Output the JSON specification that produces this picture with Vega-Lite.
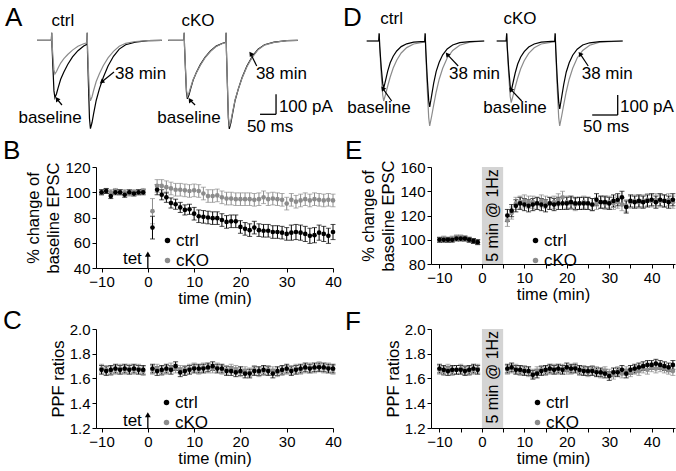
{
"$schema": "https://vega.github.io/schema/vega-lite/v6.json",
"padding": {"left": 3, "top": 5, "right": 0, "bottom": 0},
"background": "white",
"columns": 2,
"spacing": {"row": 61, "column": 98},
"bounds": "flush",
"align": "each",
"resolve": {"scale": {"color": "independent"}, "legend": {"color": "independent"}},
"datasets": {
"trA": [
{"k":"ctrl","t":0,"b":0,"g":0},{"k":"ctrl","t":45,"b":0,"g":0},{"k":"ctrl","t":46,"b":38,"g":38},{"k":"ctrl","t":47,"b":-29,"g":-17},{"k":"ctrl","t":50,"b":-144,"g":-84},{"k":"ctrl","t":53,"b":-253,"g":-148},{"k":"ctrl","t":56,"b":-287,"g":-168},{"k":"ctrl","t":61,"b":-267,"g":-156},{"k":"ctrl","t":66,"b":-238,"g":-139},{"k":"ctrl","t":74,"b":-195,"g":-114},{"k":"ctrl","t":84,"b":-158,"g":-92},{"k":"ctrl","t":96,"b":-121,"g":-71},{"k":"ctrl","t":111,"b":-83,"g":-49},{"k":"ctrl","t":128,"b":-52,"g":-30},{"k":"ctrl","t":146,"b":-29,"g":-17},{"k":"ctrl","t":156,"b":-20,"g":-12},{"k":"ctrl","t":157,"b":38,"g":38},{"k":"ctrl","t":158,"b":-64,"g":-42},{"k":"ctrl","t":161,"b":-231,"g":-160},{"k":"ctrl","t":164,"b":-391,"g":-268},{"k":"ctrl","t":167,"b":-442,"g":-303},{"k":"ctrl","t":172,"b":-411,"g":-282},{"k":"ctrl","t":177,"b":-367,"g":-251},{"k":"ctrl","t":185,"b":-301,"g":-206},{"k":"ctrl","t":195,"b":-243,"g":-167},{"k":"ctrl","t":207,"b":-186,"g":-127},{"k":"ctrl","t":222,"b":-128,"g":-88},{"k":"ctrl","t":239,"b":-80,"g":-55},{"k":"ctrl","t":257,"b":-44,"g":-30},{"k":"ctrl","t":277,"b":-22,"g":-15},{"k":"ctrl","t":307,"b":-9,"g":-6},{"k":"ctrl","t":347,"b":-2,"g":-2},{"k":"ctrl","t":390,"b":0,"g":0},
{"k":"cKO","t":410,"b":0,"g":0},{"k":"cKO","t":459,"b":0,"g":0},{"k":"cKO","t":460,"b":38,"g":38},{"k":"cKO","t":461,"b":-29,"g":-28},{"k":"cKO","t":464,"b":-147,"g":-140},{"k":"cKO","t":467,"b":-258,"g":-246},{"k":"cKO","t":470,"b":-293,"g":-280},{"k":"cKO","t":475,"b":-272,"g":-262},{"k":"cKO","t":480,"b":-243,"g":-236},{"k":"cKO","t":488,"b":-199,"g":-196},{"k":"cKO","t":498,"b":-161,"g":-162},{"k":"cKO","t":510,"b":-123,"g":-126},{"k":"cKO","t":525,"b":-85,"g":-88},{"k":"cKO","t":542,"b":-53,"g":-56},{"k":"cKO","t":560,"b":-29,"g":-31},{"k":"cKO","t":580,"b":-15,"g":-16},{"k":"cKO","t":590,"b":-10,"g":-11},{"k":"cKO","t":591,"b":38,"g":38},{"k":"cKO","t":592,"b":-54,"g":-53},{"k":"cKO","t":595,"b":-222,"g":-215},{"k":"cKO","t":598,"b":-390,"g":-378},{"k":"cKO","t":601,"b":-443,"g":-430},{"k":"cKO","t":606,"b":-412,"g":-402},{"k":"cKO","t":611,"b":-368,"g":-361},{"k":"cKO","t":619,"b":-301,"g":-298},{"k":"cKO","t":629,"b":-244,"g":-244},{"k":"cKO","t":641,"b":-186,"g":-188},{"k":"cKO","t":656,"b":-128,"g":-132},{"k":"cKO","t":673,"b":-80,"g":-84},{"k":"cKO","t":691,"b":-44,"g":-47},{"k":"cKO","t":711,"b":-22,"g":-24},{"k":"cKO","t":741,"b":-9,"g":-10},{"k":"cKO","t":781,"b":-2,"g":-2},{"k":"cKO","t":815,"b":0,"g":0}
],
"trD": [
{"k":"ctrl","t":0,"b":0,"g":0},{"k":"ctrl","t":24,"b":0,"g":0},{"k":"ctrl","t":25,"b":38,"g":38},{"k":"ctrl","t":26,"b":-24,"g":-30},{"k":"ctrl","t":29,"b":-130,"g":-165},{"k":"ctrl","t":32,"b":-212,"g":-270},{"k":"ctrl","t":34,"b":-236,"g":-300},{"k":"ctrl","t":38,"b":-194,"g":-264},{"k":"ctrl","t":42,"b":-151,"g":-225},{"k":"ctrl","t":47,"b":-109,"g":-180},{"k":"ctrl","t":53,"b":-76,"g":-135},{"k":"ctrl","t":60,"b":-50,"g":-96},{"k":"ctrl","t":69,"b":-28,"g":-60},{"k":"ctrl","t":80,"b":-14,"g":-33},{"k":"ctrl","t":94,"b":-6,"g":-15},{"k":"ctrl","t":116,"b":-2,"g":-5},{"k":"ctrl","t":117,"b":38,"g":38},{"k":"ctrl","t":118,"b":-35,"g":-45},{"k":"ctrl","t":121,"b":-182,"g":-234},{"k":"ctrl","t":124,"b":-297,"g":-383},{"k":"ctrl","t":126,"b":-330,"g":-425},{"k":"ctrl","t":130,"b":-271,"g":-374},{"k":"ctrl","t":134,"b":-211,"g":-319},{"k":"ctrl","t":139,"b":-152,"g":-255},{"k":"ctrl","t":145,"b":-106,"g":-191},{"k":"ctrl","t":152,"b":-69,"g":-136},{"k":"ctrl","t":161,"b":-40,"g":-85},{"k":"ctrl","t":172,"b":-20,"g":-47},{"k":"ctrl","t":186,"b":-8,"g":-21},{"k":"ctrl","t":206,"b":-3,"g":-6},{"k":"ctrl","t":235,"b":0,"g":0},
{"k":"cKO","t":260,"b":0,"g":0},{"k":"cKO","t":279,"b":0,"g":0},{"k":"cKO","t":280,"b":38,"g":38},{"k":"cKO","t":281,"b":-25,"g":-31},{"k":"cKO","t":284,"b":-138,"g":-169},{"k":"cKO","t":287,"b":-225,"g":-277},{"k":"cKO","t":289,"b":-250,"g":-308},{"k":"cKO","t":293,"b":-205,"g":-271},{"k":"cKO","t":297,"b":-160,"g":-231},{"k":"cKO","t":302,"b":-115,"g":-185},{"k":"cKO","t":308,"b":-80,"g":-139},{"k":"cKO","t":315,"b":-53,"g":-99},{"k":"cKO","t":324,"b":-30,"g":-62},{"k":"cKO","t":335,"b":-15,"g":-34},{"k":"cKO","t":349,"b":-6,"g":-15},{"k":"cKO","t":376,"b":-1,"g":-4},{"k":"cKO","t":377,"b":38,"g":38},{"k":"cKO","t":378,"b":-34,"g":-43},{"k":"cKO","t":381,"b":-187,"g":-234},{"k":"cKO","t":384,"b":-306,"g":-383},{"k":"cKO","t":386,"b":-340,"g":-425},{"k":"cKO","t":390,"b":-279,"g":-374},{"k":"cKO","t":394,"b":-218,"g":-319},{"k":"cKO","t":399,"b":-156,"g":-255},{"k":"cKO","t":405,"b":-109,"g":-191},{"k":"cKO","t":412,"b":-71,"g":-136},{"k":"cKO","t":421,"b":-41,"g":-85},{"k":"cKO","t":432,"b":-20,"g":-47},{"k":"cKO","t":446,"b":-9,"g":-21},{"k":"cKO","t":466,"b":-3,"g":-6},{"k":"cKO","t":512,"b":0,"g":0}
],
"barA": [{"x":747,"x2":747,"y":-270,"y2":-370},{"x":697,"x2":747,"y":-370,"y2":-370}],
"barD": [{"x":502,"x2":502,"y":-270,"y2":-370},{"x":451,"x2":502,"y":-370,"y2":-370}],
"arrA": [{"n":"ctrlbase","x":78,"y":-323.5,"x2":62.5,"y2":-293.5},{"n":"ctrl38","x":240.6,"y":-158.5,"x2":202,"y2":-208.5},{"n":"kobase","x":494,"y":-323.5,"x2":478,"y2":-298.5},{"n":"ko38","x":686.6,"y":-128.5,"x2":667.8,"y2":-67}],
"arrD": [{"n":"ctrlbase","x":50,"y":-300,"x2":32,"y2":-236.5},{"n":"ctrl38","x":183,"y":-125,"x2":161,"y2":-66.5},{"n":"kobase","x":310,"y":-300,"x2":288,"y2":-241.5},{"n":"ko38","x":443,"y":-125,"x2":426.6,"y2":-63.5}],
"labAc": [{"x":81,"y":96.5,"s":"ctrl"},{"x":503,"y":96.5,"s":"cKO"},{"x":41,"y":-387,"s":"baseline"},{"x":475,"y":-387,"s":"baseline"}],
"labAl": [{"x":244,"y":-167,"s":"38 min"},{"x":684,"y":-167,"s":"38 min"},{"x":756,"y":-333.5,"s":"100 pA"},{"x":656,"y":-433.5,"s":"50 ms"}],
"labDc": [{"x":50,"y":108.5,"s":"ctrl"},{"x":306.6,"y":108.5,"s":"cKO"},{"x":24.6,"y":-333.5,"s":"baseline"},{"x":296.6,"y":-333.5,"s":"baseline"}],
"labDl": [{"x":164.6,"y":-163.5,"s":"38 min"},{"x":430,"y":-163.5,"s":"38 min"},{"x":506.6,"y":-330,"s":"100 pA"},{"x":432.6,"y":-430,"s":"50 ms"}],
"B": [
{"t":-10,"g":"cKO","m":100,"e":2},{"t":-9,"g":"cKO","m":101,"e":2},{"t":-8,"g":"cKO","m":100,"e":2},{"t":-7,"g":"cKO","m":101,"e":2},{"t":-6,"g":"cKO","m":100,"e":2},{"t":-5,"g":"cKO","m":100,"e":2},{"t":-4,"g":"cKO","m":99,"e":2},{"t":-3,"g":"cKO","m":100,"e":2},{"t":-2,"g":"cKO","m":100,"e":2},{"t":-1,"g":"cKO","m":101,"e":2},
{"t":1,"g":"cKO","m":85,"e":10},{"t":2,"g":"cKO","m":105,"e":5},{"t":3,"g":"cKO","m":105,"e":5},{"t":4,"g":"cKO","m":104,"e":5},{"t":5,"g":"cKO","m":103,"e":5},{"t":6,"g":"cKO","m":102,"e":5},{"t":7,"g":"cKO","m":102,"e":5},{"t":8,"g":"cKO","m":101.5,"e":5},{"t":9,"g":"cKO","m":101,"e":5},{"t":10,"g":"cKO","m":101.5,"e":5},{"t":11,"g":"cKO","m":101,"e":5},{"t":12,"g":"cKO","m":99,"e":5},{"t":13,"g":"cKO","m":97,"e":5},{"t":14,"g":"cKO","m":97,"e":5},{"t":15,"g":"cKO","m":97.5,"e":5},{"t":16,"g":"cKO","m":96,"e":5},{"t":17,"g":"cKO","m":95,"e":5},{"t":18,"g":"cKO","m":95,"e":5},{"t":19,"g":"cKO","m":94.5,"e":5},{"t":20,"g":"cKO","m":94.5,"e":5},{"t":21,"g":"cKO","m":94.5,"e":5},{"t":22,"g":"cKO","m":94.5,"e":5},{"t":23,"g":"cKO","m":94,"e":5},{"t":24,"g":"cKO","m":94.5,"e":5},{"t":25,"g":"cKO","m":96,"e":5},{"t":26,"g":"cKO","m":94.5,"e":5},{"t":27,"g":"cKO","m":95,"e":5},{"t":28,"g":"cKO","m":94.5,"e":5},{"t":29,"g":"cKO","m":94,"e":5},{"t":30,"g":"cKO","m":91,"e":5},{"t":31,"g":"cKO","m":94,"e":5},{"t":32,"g":"cKO","m":92.5,"e":5},{"t":33,"g":"cKO","m":93.5,"e":5},{"t":34,"g":"cKO","m":94.5,"e":5},{"t":35,"g":"cKO","m":93.5,"e":5},{"t":36,"g":"cKO","m":94.5,"e":5},{"t":37,"g":"cKO","m":94,"e":5},{"t":38,"g":"cKO","m":93.5,"e":5},{"t":39,"g":"cKO","m":94,"e":5},{"t":40,"g":"cKO","m":93.5,"e":5},
{"t":-10,"g":"ctrl","m":100,"e":2},{"t":-9,"g":"ctrl","m":101,"e":2},{"t":-8,"g":"ctrl","m":97,"e":2},{"t":-7,"g":"ctrl","m":100,"e":2},{"t":-6,"g":"ctrl","m":100,"e":2},{"t":-5,"g":"ctrl","m":98,"e":2},{"t":-4,"g":"ctrl","m":100,"e":2},{"t":-3,"g":"ctrl","m":99,"e":2},{"t":-2,"g":"ctrl","m":100,"e":2},{"t":-1,"g":"ctrl","m":100,"e":2},
{"t":1,"g":"ctrl","m":72,"e":9},{"t":2,"g":"ctrl","m":102,"e":4},{"t":3,"g":"ctrl","m":98,"e":4},{"t":4,"g":"ctrl","m":96,"e":4},{"t":5,"g":"ctrl","m":91.5,"e":4},{"t":6,"g":"ctrl","m":90.5,"e":4},{"t":7,"g":"ctrl","m":88,"e":4},{"t":8,"g":"ctrl","m":86,"e":4},{"t":9,"g":"ctrl","m":86.5,"e":4},{"t":10,"g":"ctrl","m":83,"e":5},{"t":11,"g":"ctrl","m":81,"e":5},{"t":12,"g":"ctrl","m":80.5,"e":5},{"t":13,"g":"ctrl","m":80,"e":5},{"t":14,"g":"ctrl","m":79.5,"e":5},{"t":15,"g":"ctrl","m":79.5,"e":5},{"t":16,"g":"ctrl","m":78,"e":5},{"t":17,"g":"ctrl","m":76.5,"e":5},{"t":18,"g":"ctrl","m":77,"e":5},{"t":19,"g":"ctrl","m":77,"e":5},{"t":20,"g":"ctrl","m":72.5,"e":5},{"t":21,"g":"ctrl","m":71,"e":5},{"t":22,"g":"ctrl","m":70,"e":5},{"t":23,"g":"ctrl","m":72,"e":5},{"t":24,"g":"ctrl","m":70,"e":5},{"t":25,"g":"ctrl","m":69.5,"e":5},{"t":26,"g":"ctrl","m":69.5,"e":5},{"t":27,"g":"ctrl","m":68.5,"e":5},{"t":28,"g":"ctrl","m":68.5,"e":5},{"t":29,"g":"ctrl","m":68,"e":5},{"t":30,"g":"ctrl","m":67,"e":5},{"t":31,"g":"ctrl","m":68,"e":6},{"t":32,"g":"ctrl","m":68.5,"e":6},{"t":33,"g":"ctrl","m":68,"e":6},{"t":34,"g":"ctrl","m":67,"e":6},{"t":35,"g":"ctrl","m":65.5,"e":6},{"t":36,"g":"ctrl","m":66,"e":6},{"t":37,"g":"ctrl","m":68,"e":6},{"t":38,"g":"ctrl","m":67,"e":6},{"t":39,"g":"ctrl","m":65.5,"e":6},{"t":40,"g":"ctrl","m":68.5,"e":6}
],
"C": [
{"t":-10,"g":"cKO","m":1.68,"e":0.035},{"t":-9,"g":"cKO","m":1.67,"e":0.035},{"t":-8,"g":"cKO","m":1.66,"e":0.035},{"t":-7,"g":"cKO","m":1.67,"e":0.035},{"t":-6,"g":"cKO","m":1.68,"e":0.035},{"t":-5,"g":"cKO","m":1.67,"e":0.035},{"t":-4,"g":"cKO","m":1.68,"e":0.035},{"t":-3,"g":"cKO","m":1.67,"e":0.035},{"t":-2,"g":"cKO","m":1.68,"e":0.035},{"t":-1,"g":"cKO","m":1.66,"e":0.035},
{"t":1,"g":"cKO","m":1.67,"e":0.035},{"t":2,"g":"cKO","m":1.68,"e":0.035},{"t":3,"g":"cKO","m":1.66,"e":0.035},{"t":4,"g":"cKO","m":1.67,"e":0.035},{"t":5,"g":"cKO","m":1.69,"e":0.035},{"t":6,"g":"cKO","m":1.68,"e":0.035},{"t":7,"g":"cKO","m":1.67,"e":0.035},{"t":8,"g":"cKO","m":1.67,"e":0.035},{"t":9,"g":"cKO","m":1.68,"e":0.035},{"t":10,"g":"cKO","m":1.69,"e":0.035},{"t":11,"g":"cKO","m":1.67,"e":0.035},{"t":12,"g":"cKO","m":1.69,"e":0.035},{"t":13,"g":"cKO","m":1.68,"e":0.035},{"t":14,"g":"cKO","m":1.68,"e":0.035},{"t":15,"g":"cKO","m":1.69,"e":0.035},{"t":16,"g":"cKO","m":1.67,"e":0.035},{"t":17,"g":"cKO","m":1.67,"e":0.035},{"t":18,"g":"cKO","m":1.68,"e":0.035},{"t":19,"g":"cKO","m":1.67,"e":0.035},{"t":20,"g":"cKO","m":1.65,"e":0.035},{"t":21,"g":"cKO","m":1.66,"e":0.035},{"t":22,"g":"cKO","m":1.65,"e":0.035},{"t":23,"g":"cKO","m":1.67,"e":0.035},{"t":24,"g":"cKO","m":1.65,"e":0.035},{"t":25,"g":"cKO","m":1.66,"e":0.035},{"t":26,"g":"cKO","m":1.67,"e":0.035},{"t":27,"g":"cKO","m":1.66,"e":0.035},{"t":28,"g":"cKO","m":1.65,"e":0.035},{"t":29,"g":"cKO","m":1.66,"e":0.035},{"t":30,"g":"cKO","m":1.67,"e":0.035},{"t":31,"g":"cKO","m":1.67,"e":0.035},{"t":32,"g":"cKO","m":1.68,"e":0.035},{"t":33,"g":"cKO","m":1.67,"e":0.035},{"t":34,"g":"cKO","m":1.68,"e":0.035},{"t":35,"g":"cKO","m":1.69,"e":0.035},{"t":36,"g":"cKO","m":1.68,"e":0.035},{"t":37,"g":"cKO","m":1.7,"e":0.035},{"t":38,"g":"cKO","m":1.68,"e":0.035},{"t":39,"g":"cKO","m":1.69,"e":0.035},{"t":40,"g":"cKO","m":1.67,"e":0.035},
{"t":-10,"g":"ctrl","m":1.67,"e":0.035},{"t":-9,"g":"ctrl","m":1.66,"e":0.035},{"t":-8,"g":"ctrl","m":1.67,"e":0.035},{"t":-7,"g":"ctrl","m":1.68,"e":0.035},{"t":-6,"g":"ctrl","m":1.67,"e":0.035},{"t":-5,"g":"ctrl","m":1.68,"e":0.035},{"t":-4,"g":"ctrl","m":1.67,"e":0.035},{"t":-3,"g":"ctrl","m":1.68,"e":0.035},{"t":-2,"g":"ctrl","m":1.67,"e":0.035},{"t":-1,"g":"ctrl","m":1.67,"e":0.035},
{"t":1,"g":"ctrl","m":1.68,"e":0.035},{"t":2,"g":"ctrl","m":1.66,"e":0.035},{"t":3,"g":"ctrl","m":1.67,"e":0.035},{"t":4,"g":"ctrl","m":1.68,"e":0.035},{"t":5,"g":"ctrl","m":1.67,"e":0.035},{"t":6,"g":"ctrl","m":1.7,"e":0.035},{"t":7,"g":"ctrl","m":1.65,"e":0.035},{"t":8,"g":"ctrl","m":1.66,"e":0.035},{"t":9,"g":"ctrl","m":1.67,"e":0.035},{"t":10,"g":"ctrl","m":1.68,"e":0.035},{"t":11,"g":"ctrl","m":1.68,"e":0.035},{"t":12,"g":"ctrl","m":1.68,"e":0.035},{"t":13,"g":"ctrl","m":1.69,"e":0.035},{"t":14,"g":"ctrl","m":1.7,"e":0.035},{"t":15,"g":"ctrl","m":1.68,"e":0.035},{"t":16,"g":"ctrl","m":1.68,"e":0.035},{"t":17,"g":"ctrl","m":1.66,"e":0.035},{"t":18,"g":"ctrl","m":1.66,"e":0.035},{"t":19,"g":"ctrl","m":1.65,"e":0.035},{"t":20,"g":"ctrl","m":1.66,"e":0.035},{"t":21,"g":"ctrl","m":1.64,"e":0.035},{"t":22,"g":"ctrl","m":1.64,"e":0.035},{"t":23,"g":"ctrl","m":1.66,"e":0.035},{"t":24,"g":"ctrl","m":1.66,"e":0.035},{"t":25,"g":"ctrl","m":1.67,"e":0.035},{"t":26,"g":"ctrl","m":1.66,"e":0.035},{"t":27,"g":"ctrl","m":1.64,"e":0.035},{"t":28,"g":"ctrl","m":1.66,"e":0.035},{"t":29,"g":"ctrl","m":1.67,"e":0.035},{"t":30,"g":"ctrl","m":1.68,"e":0.035},{"t":31,"g":"ctrl","m":1.66,"e":0.035},{"t":32,"g":"ctrl","m":1.67,"e":0.035},{"t":33,"g":"ctrl","m":1.68,"e":0.035},{"t":34,"g":"ctrl","m":1.69,"e":0.035},{"t":35,"g":"ctrl","m":1.68,"e":0.035},{"t":36,"g":"ctrl","m":1.69,"e":0.035},{"t":37,"g":"ctrl","m":1.69,"e":0.035},{"t":38,"g":"ctrl","m":1.69,"e":0.035},{"t":39,"g":"ctrl","m":1.68,"e":0.035},{"t":40,"g":"ctrl","m":1.68,"e":0.035}
],
"E": [
{"t":-10,"g":"cKO","m":100,"e":2},{"t":-9,"g":"cKO","m":101,"e":2},{"t":-8,"g":"cKO","m":100,"e":2},{"t":-7,"g":"cKO","m":101,"e":2},{"t":-6,"g":"cKO","m":102,"e":2},{"t":-5,"g":"cKO","m":102,"e":2},{"t":-4,"g":"cKO","m":101,"e":2},{"t":-3,"g":"cKO","m":100,"e":2},{"t":-2,"g":"cKO","m":99,"e":2},{"t":-1,"g":"cKO","m":98,"e":2},
{"t":6,"g":"cKO","m":116,"e":5},{"t":7,"g":"cKO","m":122,"e":5},{"t":8,"g":"cKO","m":130,"e":5},{"t":9,"g":"cKO","m":131,"e":5},{"t":10,"g":"cKO","m":132,"e":5},{"t":11,"g":"cKO","m":131,"e":5},{"t":12,"g":"cKO","m":131,"e":5},{"t":13,"g":"cKO","m":130,"e":5},{"t":14,"g":"cKO","m":132,"e":5},{"t":15,"g":"cKO","m":131,"e":5},{"t":16,"g":"cKO","m":130,"e":5},{"t":17,"g":"cKO","m":131,"e":5},{"t":18,"g":"cKO","m":133,"e":5},{"t":19,"g":"cKO","m":135,"e":5},{"t":20,"g":"cKO","m":131,"e":5},{"t":21,"g":"cKO","m":130,"e":5},{"t":22,"g":"cKO","m":129,"e":5},{"t":23,"g":"cKO","m":130,"e":5},{"t":24,"g":"cKO","m":131,"e":5},{"t":25,"g":"cKO","m":130,"e":5},{"t":26,"g":"cKO","m":129,"e":5},{"t":27,"g":"cKO","m":130,"e":5},{"t":28,"g":"cKO","m":131,"e":5},{"t":29,"g":"cKO","m":130,"e":5},{"t":30,"g":"cKO","m":131,"e":5},{"t":31,"g":"cKO","m":130,"e":5},{"t":32,"g":"cKO","m":131,"e":5},{"t":33,"g":"cKO","m":129,"e":5},{"t":34,"g":"cKO","m":128,"e":5},{"t":35,"g":"cKO","m":131,"e":5},{"t":36,"g":"cKO","m":132,"e":5},{"t":37,"g":"cKO","m":131,"e":5},{"t":38,"g":"cKO","m":132,"e":5},{"t":39,"g":"cKO","m":133,"e":5},{"t":40,"g":"cKO","m":132,"e":5},{"t":41,"g":"cKO","m":133,"e":5},{"t":42,"g":"cKO","m":132,"e":5},{"t":43,"g":"cKO","m":132,"e":5},{"t":44,"g":"cKO","m":133,"e":5},{"t":45,"g":"cKO","m":131,"e":5},
{"t":-10,"g":"ctrl","m":100,"e":2},{"t":-9,"g":"ctrl","m":100,"e":2},{"t":-8,"g":"ctrl","m":100,"e":2},{"t":-7,"g":"ctrl","m":100,"e":2},{"t":-6,"g":"ctrl","m":101,"e":2},{"t":-5,"g":"ctrl","m":101,"e":2},{"t":-4,"g":"ctrl","m":101,"e":2},{"t":-3,"g":"ctrl","m":100,"e":2},{"t":-2,"g":"ctrl","m":99,"e":2},{"t":-1,"g":"ctrl","m":98,"e":2},
{"t":6,"g":"ctrl","m":120,"e":5},{"t":7,"g":"ctrl","m":124,"e":5},{"t":8,"g":"ctrl","m":128,"e":5},{"t":9,"g":"ctrl","m":130,"e":5},{"t":10,"g":"ctrl","m":129,"e":5},{"t":11,"g":"ctrl","m":128,"e":5},{"t":12,"g":"ctrl","m":129,"e":5},{"t":13,"g":"ctrl","m":130,"e":5},{"t":14,"g":"ctrl","m":129,"e":5},{"t":15,"g":"ctrl","m":128,"e":5},{"t":16,"g":"ctrl","m":130,"e":5},{"t":17,"g":"ctrl","m":129,"e":5},{"t":18,"g":"ctrl","m":130,"e":5},{"t":19,"g":"ctrl","m":130,"e":5},{"t":20,"g":"ctrl","m":130,"e":5},{"t":21,"g":"ctrl","m":131,"e":5},{"t":22,"g":"ctrl","m":130,"e":5},{"t":23,"g":"ctrl","m":130,"e":5},{"t":24,"g":"ctrl","m":130,"e":5},{"t":25,"g":"ctrl","m":130,"e":5},{"t":26,"g":"ctrl","m":129,"e":5},{"t":27,"g":"ctrl","m":133,"e":5},{"t":28,"g":"ctrl","m":131,"e":5},{"t":29,"g":"ctrl","m":131,"e":5},{"t":30,"g":"ctrl","m":130,"e":5},{"t":31,"g":"ctrl","m":132,"e":5},{"t":32,"g":"ctrl","m":133,"e":5},{"t":33,"g":"ctrl","m":135,"e":5},{"t":34,"g":"ctrl","m":127,"e":5},{"t":35,"g":"ctrl","m":132,"e":5},{"t":36,"g":"ctrl","m":131,"e":5},{"t":37,"g":"ctrl","m":132,"e":5},{"t":38,"g":"ctrl","m":131,"e":5},{"t":39,"g":"ctrl","m":132,"e":5},{"t":40,"g":"ctrl","m":133,"e":5},{"t":41,"g":"ctrl","m":131,"e":5},{"t":42,"g":"ctrl","m":133,"e":5},{"t":43,"g":"ctrl","m":132,"e":5},{"t":44,"g":"ctrl","m":131,"e":5},{"t":45,"g":"ctrl","m":133,"e":5}
],
"F": [
{"t":-10,"g":"cKO","m":1.67,"e":0.035},{"t":-9,"g":"cKO","m":1.66,"e":0.035},{"t":-8,"g":"cKO","m":1.68,"e":0.035},{"t":-7,"g":"cKO","m":1.66,"e":0.035},{"t":-6,"g":"cKO","m":1.67,"e":0.035},{"t":-5,"g":"cKO","m":1.68,"e":0.035},{"t":-4,"g":"cKO","m":1.67,"e":0.035},{"t":-3,"g":"cKO","m":1.66,"e":0.035},{"t":-2,"g":"cKO","m":1.67,"e":0.035},{"t":-1,"g":"cKO","m":1.68,"e":0.035},
{"t":6,"g":"cKO","m":1.67,"e":0.035},{"t":7,"g":"cKO","m":1.68,"e":0.035},{"t":8,"g":"cKO","m":1.68,"e":0.035},{"t":9,"g":"cKO","m":1.66,"e":0.035},{"t":10,"g":"cKO","m":1.67,"e":0.035},{"t":11,"g":"cKO","m":1.65,"e":0.035},{"t":12,"g":"cKO","m":1.64,"e":0.035},{"t":13,"g":"cKO","m":1.66,"e":0.035},{"t":14,"g":"cKO","m":1.67,"e":0.035},{"t":15,"g":"cKO","m":1.66,"e":0.035},{"t":16,"g":"cKO","m":1.67,"e":0.035},{"t":17,"g":"cKO","m":1.68,"e":0.035},{"t":18,"g":"cKO","m":1.67,"e":0.035},{"t":19,"g":"cKO","m":1.68,"e":0.035},{"t":20,"g":"cKO","m":1.67,"e":0.035},{"t":21,"g":"cKO","m":1.67,"e":0.035},{"t":22,"g":"cKO","m":1.69,"e":0.035},{"t":23,"g":"cKO","m":1.66,"e":0.035},{"t":24,"g":"cKO","m":1.67,"e":0.035},{"t":25,"g":"cKO","m":1.65,"e":0.035},{"t":26,"g":"cKO","m":1.67,"e":0.035},{"t":27,"g":"cKO","m":1.66,"e":0.035},{"t":28,"g":"cKO","m":1.64,"e":0.035},{"t":29,"g":"cKO","m":1.66,"e":0.035},{"t":30,"g":"cKO","m":1.64,"e":0.035},{"t":31,"g":"cKO","m":1.63,"e":0.035},{"t":32,"g":"cKO","m":1.66,"e":0.035},{"t":33,"g":"cKO","m":1.64,"e":0.035},{"t":34,"g":"cKO","m":1.66,"e":0.035},{"t":35,"g":"cKO","m":1.65,"e":0.035},{"t":36,"g":"cKO","m":1.67,"e":0.035},{"t":37,"g":"cKO","m":1.66,"e":0.035},{"t":38,"g":"cKO","m":1.68,"e":0.035},{"t":39,"g":"cKO","m":1.67,"e":0.035},{"t":40,"g":"cKO","m":1.69,"e":0.035},{"t":41,"g":"cKO","m":1.68,"e":0.035},{"t":42,"g":"cKO","m":1.69,"e":0.035},{"t":43,"g":"cKO","m":1.68,"e":0.035},{"t":44,"g":"cKO","m":1.67,"e":0.035},{"t":45,"g":"cKO","m":1.66,"e":0.035},
{"t":-10,"g":"ctrl","m":1.68,"e":0.035},{"t":-9,"g":"ctrl","m":1.67,"e":0.035},{"t":-8,"g":"ctrl","m":1.66,"e":0.035},{"t":-7,"g":"ctrl","m":1.67,"e":0.035},{"t":-6,"g":"ctrl","m":1.67,"e":0.035},{"t":-5,"g":"ctrl","m":1.67,"e":0.035},{"t":-4,"g":"ctrl","m":1.66,"e":0.035},{"t":-3,"g":"ctrl","m":1.67,"e":0.035},{"t":-2,"g":"ctrl","m":1.68,"e":0.035},{"t":-1,"g":"ctrl","m":1.67,"e":0.035},
{"t":6,"g":"ctrl","m":1.68,"e":0.035},{"t":7,"g":"ctrl","m":1.69,"e":0.035},{"t":8,"g":"ctrl","m":1.67,"e":0.035},{"t":9,"g":"ctrl","m":1.67,"e":0.035},{"t":10,"g":"ctrl","m":1.66,"e":0.035},{"t":11,"g":"ctrl","m":1.66,"e":0.035},{"t":12,"g":"ctrl","m":1.63,"e":0.035},{"t":13,"g":"ctrl","m":1.64,"e":0.035},{"t":14,"g":"ctrl","m":1.66,"e":0.035},{"t":15,"g":"ctrl","m":1.67,"e":0.035},{"t":16,"g":"ctrl","m":1.68,"e":0.035},{"t":17,"g":"ctrl","m":1.67,"e":0.035},{"t":18,"g":"ctrl","m":1.68,"e":0.035},{"t":19,"g":"ctrl","m":1.67,"e":0.035},{"t":20,"g":"ctrl","m":1.69,"e":0.035},{"t":21,"g":"ctrl","m":1.68,"e":0.035},{"t":22,"g":"ctrl","m":1.68,"e":0.035},{"t":23,"g":"ctrl","m":1.67,"e":0.035},{"t":24,"g":"ctrl","m":1.66,"e":0.035},{"t":25,"g":"ctrl","m":1.66,"e":0.035},{"t":26,"g":"ctrl","m":1.66,"e":0.035},{"t":27,"g":"ctrl","m":1.65,"e":0.035},{"t":28,"g":"ctrl","m":1.65,"e":0.035},{"t":29,"g":"ctrl","m":1.64,"e":0.035},{"t":30,"g":"ctrl","m":1.62,"e":0.035},{"t":31,"g":"ctrl","m":1.65,"e":0.035},{"t":32,"g":"ctrl","m":1.65,"e":0.035},{"t":33,"g":"ctrl","m":1.67,"e":0.035},{"t":34,"g":"ctrl","m":1.64,"e":0.035},{"t":35,"g":"ctrl","m":1.67,"e":0.035},{"t":36,"g":"ctrl","m":1.68,"e":0.035},{"t":37,"g":"ctrl","m":1.69,"e":0.035},{"t":38,"g":"ctrl","m":1.7,"e":0.035},{"t":39,"g":"ctrl","m":1.71,"e":0.035},{"t":40,"g":"ctrl","m":1.71,"e":0.035},{"t":41,"g":"ctrl","m":1.72,"e":0.035},{"t":42,"g":"ctrl","m":1.71,"e":0.035},{"t":43,"g":"ctrl","m":1.7,"e":0.035},{"t":44,"g":"ctrl","m":1.69,"e":0.035},{"t":45,"g":"ctrl","m":1.71,"e":0.035}
]
},
"concat": [
{
"width": 237, "height": 75,
"title": {"text": "A", "dx": -91, "dy": 23},
"layer": [
{"data": {"name": "trA"}, "mark": {"type": "line", "color": "#000000", "strokeWidth": 1.2},
 "encoding": {"x": {"field": "t", "type": "quantitative", "scale": {"domain": [184.4, 925], "nice": false, "zero": false}, "axis": null},
  "y": {"field": "b", "type": "quantitative", "scale": {"domain": [-328.5, 46.5], "nice": false, "zero": false}, "axis": null},
  "detail": {"field": "k"}}},
{"data": {"name": "trA"}, "mark": {"type": "line", "color": "#8c8c8c", "strokeWidth": 1.2},
 "encoding": {"x": {"field": "t", "type": "quantitative"}, "y": {"field": "g", "type": "quantitative"}, "detail": {"field": "k"}}},
{"data": {"name": "barA"}, "mark": {"type": "rule", "color": "#000000", "strokeWidth": 1.3},
 "encoding": {"x": {"field": "x", "type": "quantitative"}, "x2": {"field": "x2"}, "y": {"field": "y", "type": "quantitative"}, "y2": {"field": "y2"}}},
{"data": {"name": "arrA"}, "mark": {"type": "rule", "color": "#000000", "strokeWidth": 1.2},
 "encoding": {"x": {"field": "x", "type": "quantitative"}, "x2": {"field": "x2"}, "y": {"field": "y", "type": "quantitative"}, "y2": {"field": "y2"}}},
{"data": {"name": "arrA"}, "transform": [{"filter": "datum.n !== 'ctrl38'"}], "mark": {"type": "point", "shape": "triangle-up", "filled": true, "size": 28, "angle": -35, "color": "#000000", "opacity": 1},
 "encoding": {"x": {"field": "x2", "type": "quantitative"}, "y": {"field": "y2", "type": "quantitative"}}},
{"data": {"name": "arrA"}, "transform": [{"filter": "datum.n === 'ctrl38'"}], "mark": {"type": "point", "shape": "triangle-up", "filled": true, "size": 28, "angle": -129, "color": "#000000", "opacity": 1},
 "encoding": {"x": {"field": "x2", "type": "quantitative"}, "y": {"field": "y2", "type": "quantitative"}}},
{"data": {"name": "labAc"}, "mark": {"type": "text", "align": "center", "baseline": "middle"},
 "encoding": {"x": {"field": "x", "type": "quantitative"}, "y": {"field": "y", "type": "quantitative"}, "text": {"field": "s"}}},
{"data": {"name": "labAl"}, "mark": {"type": "text", "align": "left", "baseline": "middle"},
 "encoding": {"x": {"field": "x", "type": "quantitative"}, "y": {"field": "y", "type": "quantitative"}, "text": {"field": "s"}}}
]
},
{
"width": 244, "height": 75,
"title": {"text": "D", "dx": -88, "dy": 25},
"layer": [
{"data": {"name": "trD"}, "mark": {"type": "line", "color": "#8c8c8c", "strokeWidth": 1.2},
 "encoding": {"x": {"field": "t", "type": "quantitative", "scale": {"domain": [128.6, 616.6], "nice": false, "zero": false}, "axis": null},
  "y": {"field": "g", "type": "quantitative", "scale": {"domain": [-325, 50], "nice": false, "zero": false}, "axis": null},
  "detail": {"field": "k"}}},
{"data": {"name": "trD"}, "mark": {"type": "line", "color": "#000000", "strokeWidth": 1.2},
 "encoding": {"x": {"field": "t", "type": "quantitative"}, "y": {"field": "b", "type": "quantitative"}, "detail": {"field": "k"}}},
{"data": {"name": "barD"}, "mark": {"type": "rule", "color": "#000000", "strokeWidth": 1.3},
 "encoding": {"x": {"field": "x", "type": "quantitative"}, "x2": {"field": "x2"}, "y": {"field": "y", "type": "quantitative"}, "y2": {"field": "y2"}}},
{"data": {"name": "arrD"}, "mark": {"type": "rule", "color": "#000000", "strokeWidth": 1.2},
 "encoding": {"x": {"field": "x", "type": "quantitative"}, "x2": {"field": "x2"}, "y": {"field": "y", "type": "quantitative"}, "y2": {"field": "y2"}}},
{"data": {"name": "arrD"}, "mark": {"type": "point", "shape": "triangle-up", "filled": true, "size": 28, "angle": -38, "color": "#000000", "opacity": 1},
 "encoding": {"x": {"field": "x2", "type": "quantitative"}, "y": {"field": "y2", "type": "quantitative"}}},
{"data": {"name": "labDc"}, "mark": {"type": "text", "align": "center", "baseline": "middle"},
 "encoding": {"x": {"field": "x", "type": "quantitative"}, "y": {"field": "y", "type": "quantitative"}, "text": {"field": "s"}}},
{"data": {"name": "labDl"}, "mark": {"type": "text", "align": "left", "baseline": "middle"},
 "encoding": {"x": {"field": "x", "type": "quantitative"}, "y": {"field": "y", "type": "quantitative"}, "text": {"field": "s"}}}
]
},
{
"width": 237, "height": 101,
"title": {"text": "B", "dx": -93, "dy": 8},
"encoding": {
 "x": {"field": "t", "type": "quantitative", "scale": {"domain": [-11.2, 40], "nice": false, "zero": false}, "axis": {"values": [-10, 0, 10, 20, 30, 40], "title": "time (min)"}},
 "y": {"field": "m", "type": "quantitative", "scale": {"domain": [40, 120], "nice": false, "zero": false}, "axis": {"values": [40, 60, 80, 100, 120], "title": ["% change of", "baseline EPSC"]}}
},
"layer": [
{"data": {"name": "B"}, "mark": {"type": "errorbar", "ticks": {"size": 5}, "thickness": 1},
 "encoding": {"yError": {"field": "e"},
  "color": {"field": "g", "type": "nominal", "scale": {"domain": ["ctrl", "cKO"], "range": ["#000000", "#8c8c8c"]}, "legend": {"orient": "none", "legendX": 63, "legendY": 65, "title": null}}}},
{"data": {"name": "B"}, "mark": {"type": "point", "filled": true, "size": 22, "opacity": 1},
 "encoding": {"color": {"field": "g", "type": "nominal", "scale": {"domain": ["ctrl", "cKO"], "range": ["#000000", "#8c8c8c"]}, "legend": {"orient": "none", "legendX": 63, "legendY": 65, "title": null}}}},
{"data": {"values": [{"t": 0, "m": 40, "m2": 51}]}, "mark": {"type": "rule", "color": "#000000", "strokeWidth": 1.3},
 "encoding": {"y2": {"field": "m2"}}},
{"data": {"values": [{"t": 0, "m": 51}]}, "mark": {"type": "point", "shape": "triangle-up", "filled": true, "size": 34, "color": "#000000", "opacity": 1}},
{"data": {"values": [{"t": -1.3, "m": 46.9, "s": "tet"}]}, "mark": {"type": "text", "align": "right", "baseline": "middle"},
 "encoding": {"text": {"field": "s"}}}
]
},
{
"width": 244, "height": 97,
"title": {"text": "E", "dx": -86, "dy": 8},
"encoding": {
 "x": {"field": "t", "type": "quantitative", "scale": {"domain": [-12, 45.5], "nice": false, "zero": false}, "axis": {"values": [-10, -5, 0, 5, 10, 15, 20, 25, 30, 35, 40, 45], "labelExpr": "datum.value % 10 === 0 ? datum.label : ''", "title": "time (min)"}},
 "y": {"field": "m", "type": "quantitative", "scale": {"domain": [80, 160], "nice": false, "zero": false}, "axis": {"values": [80, 100, 120, 140, 160], "title": ["% change of", "baseline EPSC"]}}
},
"layer": [
{"data": {"values": [{"t": 0, "t2": 5}]}, "mark": {"type": "rect", "color": "#d4d4d4"},
 "encoding": {"y": null, "x2": {"field": "t2"}}},
{"data": {"values": [{"t": 2.5, "m": 120, "s": "5 min @ 1Hz"}]}, "mark": {"type": "text", "angle": 270, "align": "center", "baseline": "middle", "fontSize": 16},
 "encoding": {"text": {"field": "s"}}},
{"data": {"name": "E"}, "mark": {"type": "errorbar", "ticks": {"size": 5}, "thickness": 1},
 "encoding": {"yError": {"field": "e"},
  "color": {"field": "g", "type": "nominal", "scale": {"domain": ["ctrl", "cKO"], "range": ["#000000", "#8c8c8c"]}, "legend": {"orient": "none", "legendX": 96, "legendY": 65, "title": null}}}},
{"data": {"name": "E"}, "mark": {"type": "point", "filled": true, "size": 22, "opacity": 1},
 "encoding": {"color": {"field": "g", "type": "nominal", "scale": {"domain": ["ctrl", "cKO"], "range": ["#000000", "#8c8c8c"]}, "legend": {"orient": "none", "legendX": 96, "legendY": 65, "title": null}}}}
]
},
{
"width": 237, "height": 99,
"title": {"text": "C", "dx": -93, "dy": 15.5},
"encoding": {
 "x": {"field": "t", "type": "quantitative", "scale": {"domain": [-11.2, 40], "nice": false, "zero": false}, "axis": {"values": [-10, 0, 10, 20, 30, 40], "title": "time (min)"}},
 "y": {"field": "m", "type": "quantitative", "scale": {"domain": [1.2, 2.0], "nice": false, "zero": false}, "axis": {"values": [1.2, 1.4, 1.6, 1.8, 2.0], "format": ".1f", "title": "PPF ratios"}}
},
"layer": [
{"data": {"name": "C"}, "mark": {"type": "errorbar", "ticks": {"size": 5}, "thickness": 1},
 "encoding": {"yError": {"field": "e"},
  "color": {"field": "g", "type": "nominal", "scale": {"domain": ["ctrl", "cKO"], "range": ["#000000", "#8c8c8c"]}, "legend": {"orient": "none", "legendX": 62, "legendY": 65, "title": null}}}},
{"data": {"name": "C"}, "mark": {"type": "point", "filled": true, "size": 22, "opacity": 1},
 "encoding": {"color": {"field": "g", "type": "nominal", "scale": {"domain": ["ctrl", "cKO"], "range": ["#000000", "#8c8c8c"]}, "legend": {"orient": "none", "legendX": 62, "legendY": 65, "title": null}}}},
{"data": {"values": [{"t": 0, "m": 1.2, "m2": 1.307}]}, "mark": {"type": "rule", "color": "#000000", "strokeWidth": 1.3},
 "encoding": {"y2": {"field": "m2"}}},
{"data": {"values": [{"t": 0, "m": 1.307}]}, "mark": {"type": "point", "shape": "triangle-up", "filled": true, "size": 34, "color": "#000000", "opacity": 1}},
{"data": {"values": [{"t": -1.3, "m": 1.254, "s": "tet"}]}, "mark": {"type": "text", "align": "right", "baseline": "middle"},
 "encoding": {"text": {"field": "s"}}}
]
},
{
"width": 244, "height": 99,
"title": {"text": "F", "dx": -86, "dy": 16.5},
"encoding": {
 "x": {"field": "t", "type": "quantitative", "scale": {"domain": [-12, 45.5], "nice": false, "zero": false}, "axis": {"values": [-10, -5, 0, 5, 10, 15, 20, 25, 30, 35, 40, 45], "labelExpr": "datum.value % 10 === 0 ? datum.label : ''", "title": "time (min)"}},
 "y": {"field": "m", "type": "quantitative", "scale": {"domain": [1.2, 2.0], "nice": false, "zero": false}, "axis": {"values": [1.2, 1.4, 1.6, 1.8, 2.0], "format": ".1f", "title": "PPF ratios"}}
},
"layer": [
{"data": {"values": [{"t": 0, "t2": 5}]}, "mark": {"type": "rect", "color": "#d4d4d4"},
 "encoding": {"y": null, "x2": {"field": "t2"}}},
{"data": {"values": [{"t": 2.5, "m": 1.61, "s": "5 min @ 1Hz"}]}, "mark": {"type": "text", "angle": 270, "align": "center", "baseline": "middle", "fontSize": 16},
 "encoding": {"text": {"field": "s"}}},
{"data": {"name": "F"}, "mark": {"type": "errorbar", "ticks": {"size": 5}, "thickness": 1},
 "encoding": {"yError": {"field": "e"},
  "color": {"field": "g", "type": "nominal", "scale": {"domain": ["ctrl", "cKO"], "range": ["#000000", "#8c8c8c"]}, "legend": {"orient": "none", "legendX": 98, "legendY": 65, "title": null}}}},
{"data": {"name": "F"}, "mark": {"type": "point", "filled": true, "size": 22, "opacity": 1},
 "encoding": {"color": {"field": "g", "type": "nominal", "scale": {"domain": ["ctrl", "cKO"], "range": ["#000000", "#8c8c8c"]}, "legend": {"orient": "none", "legendX": 98, "legendY": 65, "title": null}}}}
]
}
],
"config": {
"font": "Liberation Sans",
"view": {"stroke": null},
"axis": {"grid": false, "domainColor": "#000000", "tickColor": "#000000", "labelColor": "#000000", "titleColor": "#000000", "labelFontSize": 15, "titleFontSize": 16.5, "titleFontWeight": "normal", "tickSize": 4, "labelPadding": 2, "domainWidth": 1, "tickWidth": 1, "labelFont": "Liberation Sans", "titleFont": "Liberation Sans", "labelOverlap": false, "labelFlush": false},
"axisX": {"titlePadding": 1},
"axisY": {"titlePadding": 3, "titleLineHeight": 20},
"title": {"fontSize": 26, "fontWeight": "normal", "anchor": "start", "frame": "group", "baseline": "alphabetic", "offset": 0, "color": "#000000", "font": "Liberation Sans"},
"legend": {"labelFontSize": 17, "labelColor": "#000000", "symbolSize": 30, "symbolType": "circle", "symbolOpacity": 1, "rowPadding": 2, "labelOffset": 0, "padding": 0, "symbolStrokeWidth": 0, "labelFont": "Liberation Sans"},
"text": {"font": "Liberation Sans", "fontSize": 17, "color": "#000000"}
}
}
